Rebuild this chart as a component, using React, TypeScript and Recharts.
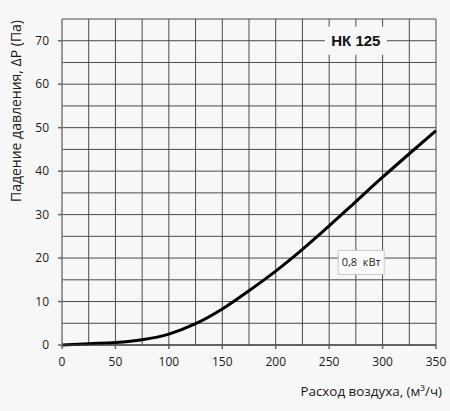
import React from "react";
import {
  Label,
  Line,
  LineChart,
  ReferenceDot,
  ReferenceLine,
  XAxis,
  YAxis,
} from "recharts";

// air flow, m³/h
const flow = [0, 25, 50, 75, 100, 125, 150, 175, 200, 225, 250, 275, 300, 325, 350];
// pressure drop, Pa
const pressure = [0, 0.3, 0.55, 1.2, 2.5, 4.9, 8.3, 12.5, 17.0, 22.0, 27.4, 33.0, 38.6, 44.0, 49.3];

const xTicks = [0, 50, 100, 150, 200, 250, 300, 350];
const yTicks = [0, 10, 20, 30, 40, 50, 60, 70];
const xGrid = [25, 50, 75, 100, 125, 150, 175, 200, 225, 250, 275, 300, 325, 350];
const yGrid = [5, 10, 15, 20, 25, 30, 35, 40, 45, 50, 55, 60, 65, 70, 75];

const modelName = "НК 125";
const modelAt = { x: 275, y: 70 };
const powerLabel = "0,8  кВт";
const powerAt = { x: 280, y: 19 };

const data = flow.map((q, i) => ({ q, dp: pressure[i] }));

const BG = "#f7f7f7";
const GRID = "#4a4a4a";
const FONT = "'Open Sans', 'Noto Sans', sans-serif";

export default function App() {
  return (
    <div
      style={{
        position: "absolute",
        left: 0,
        top: 0,
        width: 450,
        height: 411,
        background: BG,
        fontFamily: FONT,
      }}
    >
      <LineChart
        width={450}
        height={411}
        data={data}
        margin={{ top: 19, right: 14, bottom: 0, left: 0 }}
      >
        <XAxis
          dataKey="q"
          type="number"
          domain={[0, 350]}
          ticks={xTicks}
          interval={0}
          height={66}
          tickSize={4}
          tickMargin={8}
          tick={{ fill: "#1a1a1a", fontSize: 12 }}
          axisLine={{ stroke: "#333", strokeWidth: 1.5 }}
          tickLine={{ stroke: "#666", strokeWidth: 1.5 }}
        >
          <Label
            content={({ viewBox }: any) => (
              <text
                x={viewBox.x + viewBox.width + 6}
                y={viewBox.y + 51}
                textAnchor="end"
                fontSize={13.4}
                fill="#1a1a1a"
                fontFamily={FONT}
              >
                Расход воздуха, (м³/ч)
              </text>
            )}
          />
        </XAxis>
        <YAxis
          type="number"
          domain={[0, 75]}
          ticks={yTicks}
          interval={0}
          width={62}
          tickSize={4}
          tickMargin={9}
          tick={{ fill: "#1a1a1a", fontSize: 12 }}
          axisLine={{ stroke: "#777", strokeWidth: 1.5 }}
          tickLine={{ stroke: "#666", strokeWidth: 1.5 }}
        >
          <Label
            content={({ viewBox }: any) => (
              <text
                x={0}
                y={0}
                transform={`translate(21, ${viewBox.y + 1}) rotate(-90)`}
                textAnchor="end"
                fontSize={14}
                fill="#1a1a1a"
                fontFamily={FONT}
              >
                Падение давления, ΔP (Па)
              </text>
            )}
          />
        </YAxis>
        {xGrid.map((v) => (
          <ReferenceLine key={`x${v}`} x={v} stroke={GRID} strokeWidth={1} />
        ))}
        {yGrid.map((v) => (
          <ReferenceLine key={`y${v}`} y={v} stroke={GRID} strokeWidth={1} />
        ))}
        <ReferenceDot
          x={modelAt.x}
          y={modelAt.y}
          r={0}
          shape={(p: any) => (
            <g>
              <rect x={p.cx - 31} y={p.cy - 14} width={62} height={28} fill={BG} />
              <text
                x={p.cx}
                y={p.cy + 5.5}
                textAnchor="middle"
                fontSize={15}
                fontWeight="bold"
                fill="#111"
                fontFamily="'Liberation Sans', Arial, sans-serif"
              >
                {modelName}
              </text>
            </g>
          )}
        />
        <ReferenceDot
          x={powerAt.x}
          y={powerAt.y}
          r={0}
          shape={(p: any) => (
            <g>
              <rect
                x={p.cx - 23}
                y={p.cy - 12}
                width={46}
                height={24}
                fill="#fbfbfb"
                stroke="#c8c8c8"
                strokeWidth={1}
              />
              <text
                x={p.cx}
                y={p.cy + 4}
                textAnchor="middle"
                fontSize={11}
                fill="#222"
                fontFamily={FONT}
                style={{ whiteSpace: "pre" }}
              >
                {powerLabel}
              </text>
            </g>
          )}
        />
        <Line
          type="monotone"
          dataKey="dp"
          stroke="#000"
          strokeWidth={3}
          dot={false}
          isAnimationActive={false}
        />
      </LineChart>
    </div>
  );
}
